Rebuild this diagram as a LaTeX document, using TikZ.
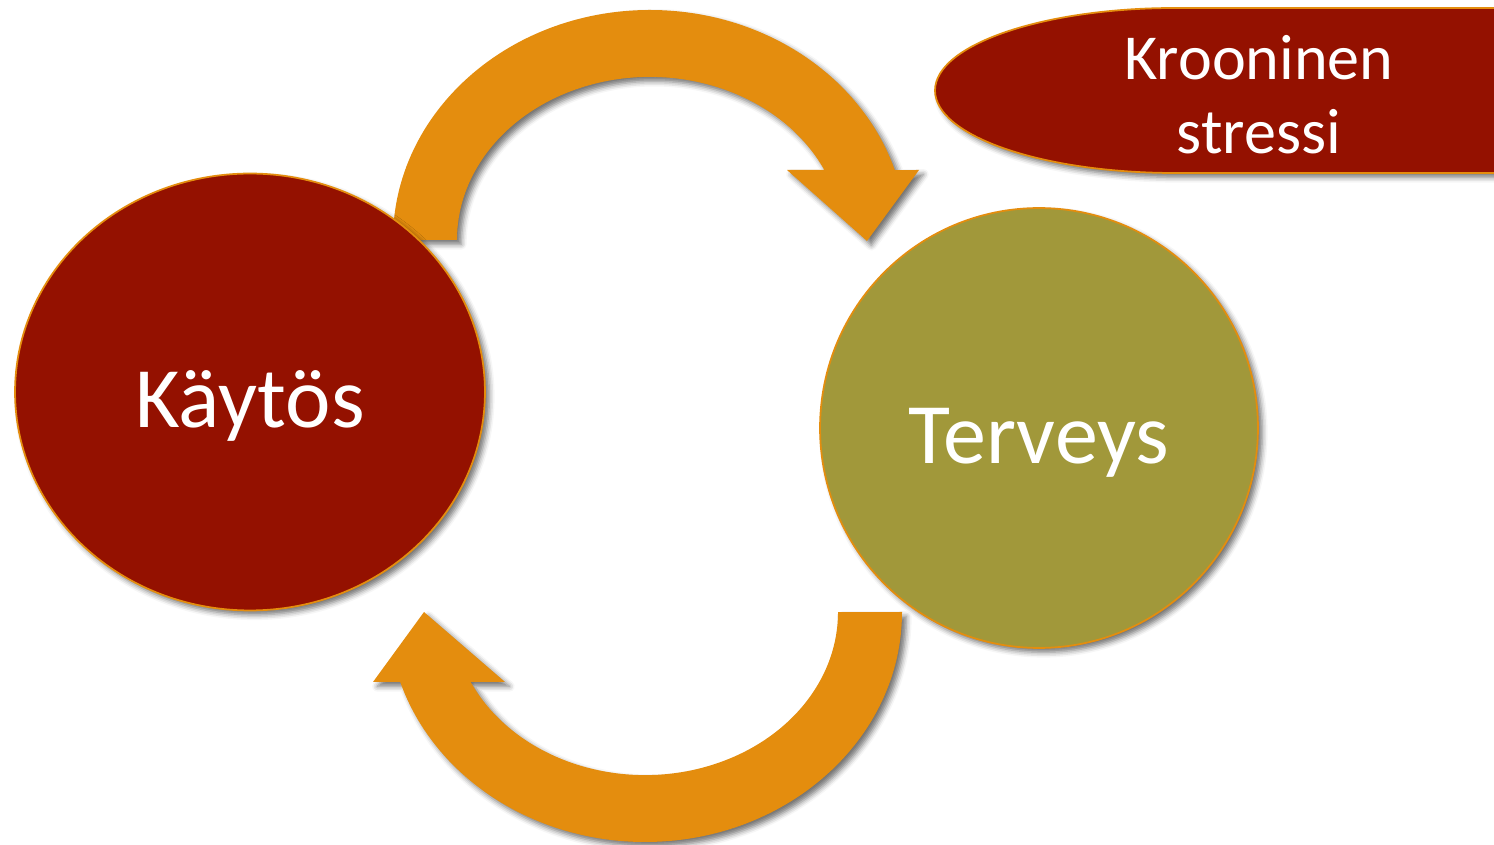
\documentclass[tikz,border=0pt]{standalone}
\usepackage{fontspec}
\setmainfont{Carlito}
\usepackage{tikz}
\usetikzlibrary{shapes.geometric, shadows.blur}
\definecolor{behavcol}{RGB}{148, 17, 0}
\definecolor{healthcol}{RGB}{161, 152, 58}
\definecolor{arrowcol}{RGB}{228, 141, 14}

\tikzset{
  softshadow/.style={blur shadow={shadow xshift=2.5pt, shadow yshift=-2.5pt,
      shadow blur radius=3pt, shadow opacity=55}},
  bubble/.style={ellipse, draw=arrowcol, line width=1pt, text=white,
      softshadow, text height=40pt, text depth=0pt,
      font=\fontsize{49}{59}\selectfont},
  cyclearrow/.style={fill=arrowcol, softshadow},
}

\begin{document}
\begin{tikzpicture}[x=0.02cm, y=0.02cm]
		\useasboundingbox (0,0) rectangle (1494,845);

		% --- Cycle arrows ---
		\fill[cyclearrow] (393,605)
			arc[start angle=180, end angle=17.7, x radius=257, y radius=230]
			-- (919,675) -- (867,604) -- (787,675) -- (824.3,675)
			arc[start angle=25.4, end angle=180, x radius=193, y radius=163] -- cycle;
		\fill[cyclearrow] (902,233)
			arc[start angle=0, end angle=-162.3, x radius=257, y radius=230]
			-- (373,163) -- (424,233) -- (505,163) -- (470.7,163)
			arc[start angle=-154.6, end angle=0, x radius=193, y radius=163] -- cycle;

		% --- Circles ---
		\node[bubble, fill=behavcol, minimum width=9.4cm, minimum height=8.74cm] (kaytos) at (250,453) {Käytös};
		\node[bubble, fill=healthcol, minimum width=8.76cm, minimum height=8.8cm] (terveys) at (1039,417) {Terveys};

		% --- Stress banner (runs off the right edge) ---
		\fill[behavcol, softshadow] (1510,837) -- (1175,837)
			arc[start angle=90, end angle=270, x radius=240, y radius=82.5] -- (1510,672) -- cycle;
		\draw[arrowcol, line width=1pt] (1510,837) -- (1175,837)
			arc[start angle=90, end angle=270, x radius=240, y radius=82.5] -- (1510,672);
		\node[text=white, align=center, font=\fontsize{36.5}{42}\selectfont] (stress) at (1259,750) {Krooninen\\stressi};
\end{tikzpicture}
\end{document}
